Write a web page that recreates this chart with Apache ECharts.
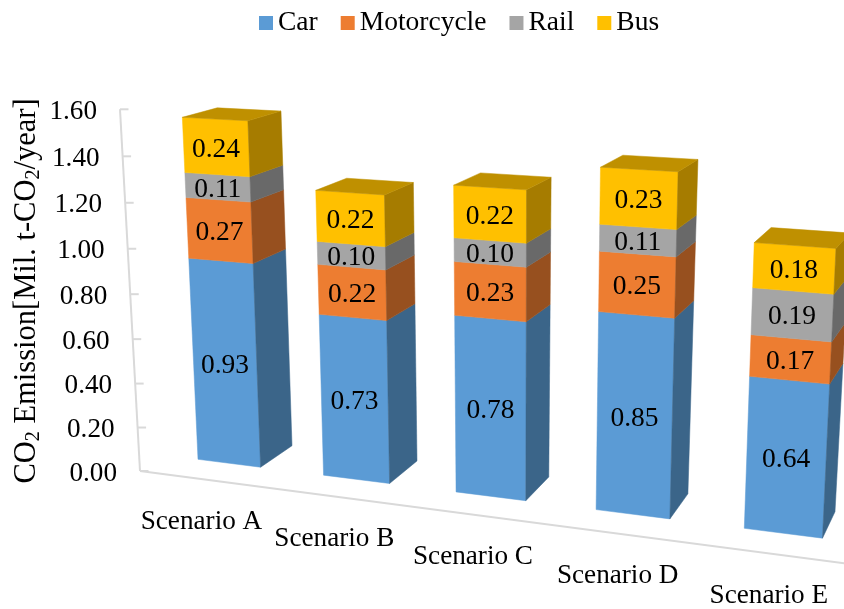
<!DOCTYPE html>
<html>
<head>
<meta charset="utf-8">
<style>html,body{margin:0;padding:0;background:#fff}#chart{width:844px;height:609px}</style>
<script src="https://cdn.jsdelivr.net/npm/echarts@6/dist/echarts.min.js"></script>
</head>
<body>
<div id="chart"></div>
<script>
// CO2 emission by transport mode for five scenarios
const scenarios = ['Scenario A', 'Scenario B', 'Scenario C', 'Scenario D', 'Scenario E'];
const car = [0.93, 0.73, 0.78, 0.85, 0.64];
const motorcycle = [0.27, 0.22, 0.23, 0.25, 0.17];
const rail = [0.11, 0.10, 0.10, 0.11, 0.19];
const bus = [0.24, 0.22, 0.22, 0.23, 0.18];
const tickValues = [0, 0.2, 0.4, 0.6, 0.8, 1.0, 1.2, 1.4, 1.6];
const tickLabels = ['0.00', '0.20', '0.40', '0.60', '0.80', '1.00', '1.20', '1.40', '1.60'];

const FONT = '"Liberation Serif", "Times New Roman", serif';
const AXIS_MAX = 1.6;
const BAR_SHARE = 0.505;

// Camera: where the corners of each drawing plane land on the page.
// Order is bottom-left, bottom-right, top-right, top-left.
const FRONT_QUAD = [[198, 459.3], [744.3, 528.3], [758, 135], [181.8, 105.7]];
const BACK_QUAD = [[292, 445.7], [835, 511.7], [855.6, 127.7], [280.6, 99.7]];
const WALL_QUAD = [[140, 471], [850, 564], [864, 164], [120, 109.3]];

// Perspective map taking a rectangle [x0,x1]x[y0,y1] in grid pixels onto a quad.
function perspective(x0, x1, y0, y1, q) {
  const [p0, p1, p2, p3] = q;
  const dx1 = p1[0] - p2[0], dx2 = p3[0] - p2[0];
  const dy1 = p1[1] - p2[1], dy2 = p3[1] - p2[1];
  const sx = p0[0] - p1[0] + p2[0] - p3[0];
  const sy = p0[1] - p1[1] + p2[1] - p3[1];
  const det = dx1 * dy2 - dx2 * dy1;
  const g = (sx * dy2 - dx2 * sy) / det;
  const h = (dx1 * sy - sx * dy1) / det;
  return function (x, y) {
    const u = (x - x0) / (x1 - x0), v = (y - y0) / (y1 - y0);
    const w = 1 + g * u + h * v;
    return [
      (p0[0] + (p1[0] * (1 + g) - p0[0]) * u + (p3[0] * (1 + h) - p0[0]) * v) / w,
      (p0[1] + (p1[1] * (1 + g) - p0[1]) * u + (p3[1] * (1 + h) - p0[1]) * v) / w
    ];
  };
}

function planes(api) {
  const band = api.size([1, 0])[0];
  const half = band * BAR_SHARE / 2;
  const first = api.coord([0, 0]), last = api.coord([scenarios.length - 1, AXIS_MAX]);
  return {
    half,
    front: perspective(first[0] - half, last[0] - half, first[1], last[1], FRONT_QUAD),
    back: perspective(first[0] + half, last[0] + half, first[1], last[1], BACK_QUAD),
    wall: perspective(first[0] - band / 2, last[0] + band / 2, first[1], last[1], WALL_QUAD)
  };
}

function poly(points, fill) {
  return { type: 'polygon', shape: { points }, style: { fill, stroke: fill, lineWidth: 0.5 } };
}

// One stacked block: front face, right side and, on the top block, a lid.
function blockItem(front, side, lid) {
  return function (params, api) {
    const i = api.value(0), base = api.value(1), top = api.value(2);
    const c0 = api.coord([i, base]), c1 = api.coord([i, top]);
    const P = planes(api);
    const L = c0[0] - P.half, R = c0[0] + P.half;
    const fbl = P.front(L, c0[1]), fbr = P.front(R, c0[1]);
    const ftl = P.front(L, c1[1]), ftr = P.front(R, c1[1]);
    const bbr = P.back(R, c0[1]), btr = P.back(R, c1[1]), btl = P.back(L, c1[1]);
    const mid = P.front(c0[0], (c0[1] + c1[1]) / 2);
    const children = [poly([fbl, fbr, ftr, ftl], front), poly([fbr, bbr, btr, ftr], side)];
    if (lid) children.push(poly([ftl, ftr, btr, btl], lid));
    children.push({
      type: 'text',
      style: {
        text: (top - base).toFixed(2), x: mid[0], y: mid[1] + 2.5,
        font: '27.5px ' + FONT, fill: '#000', align: 'center', verticalAlign: 'middle'
      }
    });
    return { type: 'group', children };
  };
}

function stackedData(values, below) {
  return values.map((v, i) => {
    const base = below.reduce((sum, s) => sum + s[i], 0);
    return [i, base, base + v];
  });
}

const blockSeries = [
  { name: 'Car', values: car, below: [], color: '#5B9BD5', side: '#3B6589' },
  { name: 'Motorcycle', values: motorcycle, below: [car], color: '#ED7D31', side: '#97501F' },
  { name: 'Rail', values: rail, below: [car, motorcycle], color: '#A5A5A5', side: '#696969' },
  { name: 'Bus', values: bus, below: [car, motorcycle, rail], color: '#FFC000', side: '#A67C00', lid: '#BF9000' }
].map(s => ({
  type: 'custom',
  name: s.name,
  coordinateSystem: 'cartesian2d',
  clip: false,
  silent: true,
  itemStyle: { color: s.color },
  encode: { x: 0, y: [1, 2] },
  data: stackedData(s.values, s.below),
  renderItem: blockItem(s.color, s.side, s.lid)
}));

// Slanted value axis with its ticks and labels
const valueAxisSeries = {
  type: 'custom',
  coordinateSystem: 'cartesian2d',
  clip: false,
  silent: true,
  z: 1,
  encode: { y: 1 },
  data: tickValues.map((v, i) => [0, v, tickLabels[i]]),
  renderItem(params, api) {
    const P = planes(api);
    const band = api.size([1, 0])[0];
    const x0 = api.coord([0, 0])[0] - band / 2;
    const c = api.coord([0, api.value(1)]);
    const p = P.wall(x0, c[1]);
    const children = [
      { type: 'line', shape: { x1: p[0], y1: p[1], x2: p[0] + 8.5, y2: p[1] }, style: { stroke: '#D9D9D9', lineWidth: 2 } },
      {
        type: 'text',
        style: {
          text: tickLabels[params.dataIndex], x: p[0] - 23, y: p[1] + 2.5,
          font: '27.2px ' + FONT, fill: '#000', align: 'right', verticalAlign: 'middle'
        }
      }
    ];
    if (params.dataIndex === 0) {
      const top = P.wall(x0, api.coord([0, AXIS_MAX])[1]);
      children.push({ type: 'line', shape: { x1: p[0], y1: p[1], x2: top[0], y2: top[1] }, style: { stroke: '#D9D9D9', lineWidth: 2 } });
    }
    return { type: 'group', children };
  }
};

// Receding category axis along the floor edge
const categoryAxisSeries = {
  type: 'custom',
  coordinateSystem: 'cartesian2d',
  clip: false,
  silent: true,
  z: 1,
  encode: { x: 0 },
  data: scenarios.map((s, i) => [i, 0]),
  renderItem(params, api) {
    const P = planes(api);
    const band = api.size([1, 0])[0];
    const c = api.coord([api.value(0), 0]);
    const p = P.wall(c[0], c[1]);
    const children = [{
      type: 'text',
      style: {
        text: scenarios[params.dataIndex], x: p[0] - 3, y: p[1] + 42,
        font: '27.2px ' + FONT, fill: '#000', align: 'center', verticalAlign: 'middle'
      }
    }];
    if (params.dataIndex === 0) {
      const a = P.wall(c[0] - band / 2, c[1]);
      const b = P.wall(api.coord([scenarios.length - 1, 0])[0] + band / 2, c[1]);
      children.push({ type: 'line', shape: { x1: a[0], y1: a[1], x2: b[0], y2: b[1] }, style: { stroke: '#D9D9D9', lineWidth: 2 } });
    }
    return { type: 'group', children };
  }
};

const chart = echarts.init(document.getElementById('chart'));
chart.setOption({
  animation: false,
  backgroundColor: '#fff',
  legend: {
    data: ['Car', 'Motorcycle', 'Rail', 'Bus'],
    left: 254, top: 4,
    icon: 'rect', itemWidth: 14, itemHeight: 14, itemGap: 23,
    selectedMode: false,
    textStyle: { fontFamily: FONT, fontSize: 27.5, color: '#000', padding: [0, 0, 0, 0] }
  },
  grid: { left: 70, right: 70, top: 100, bottom: 127, outerBoundsMode: 'none' },
  xAxis: {
    type: 'category', data: scenarios,
    axisLine: { show: false }, axisTick: { show: false }, axisLabel: { show: false }, splitLine: { show: false }
  },
  yAxis: {
    type: 'value', min: 0, max: AXIS_MAX, interval: 0.2,
    axisLine: { show: false }, axisTick: { show: false }, axisLabel: { show: false }, splitLine: { show: false },
    name: '{m|CO}{s|2}{m| Emission[Mil. t-CO}{s|2}{m|/year]}',
    nameLocation: 'middle', nameGap: 26, nameRotate: 90, nameMoveOverlap: false,
    nameTextStyle: {
      rich: {
        m: { fontFamily: FONT, fontSize: 30.5, color: '#000', lineHeight: 34 },
        s: { fontFamily: FONT, fontSize: 20, color: '#000', lineHeight: 34, verticalAlign: 'bottom' }
      }
    }
  },
  series: [valueAxisSeries, categoryAxisSeries, ...blockSeries]
});
</script>
</body>
</html>
